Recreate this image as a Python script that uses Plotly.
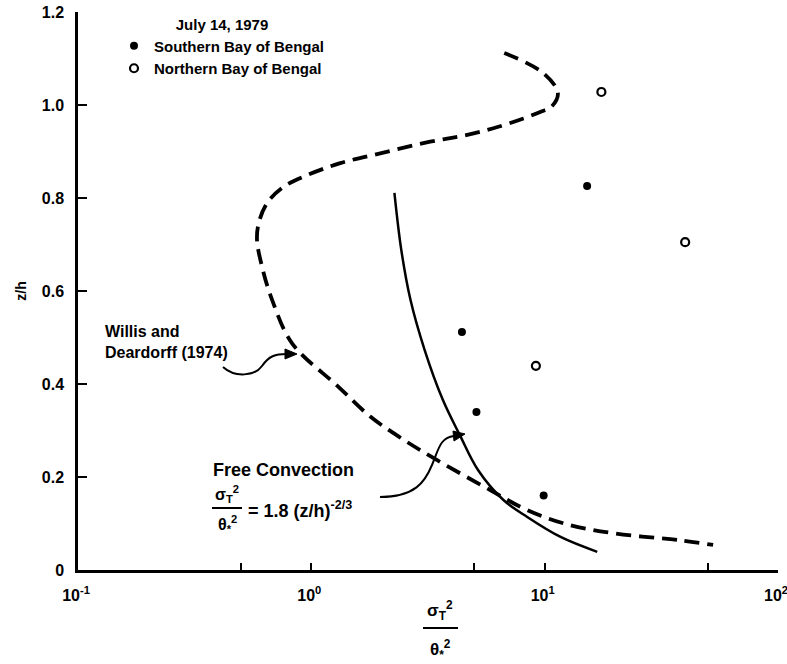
import plotly.graph_objects as go

# ---------------- data ----------------
south_x = [15.2, 4.42, 5.1, 9.9]
south_z = [0.826, 0.512, 0.340, 0.160]

north_x = [17.5, 40.0, 9.17]
north_z = [1.028, 0.705, 0.439]

# Willis and Deardorff (1974) curve (dashed)
wd_x = [6.71, 9.85, 11.39, 10.69, 9.68, 8.11, 6.03, 4.49, 3.23, 1.975, 1.331, 0.958,
        0.761, 0.646, 0.595, 0.585, 0.615, 0.679, 0.827, 1.30, 1.789, 2.40, 3.45, 5.84,
        8.11, 12.03, 19.73, 37.4, 52.7]
wd_z = [1.112, 1.069, 1.026, 0.996, 0.986, 0.971, 0.950, 0.934, 0.921, 0.896, 0.875, 0.849,
        0.824, 0.789, 0.746, 0.710, 0.652, 0.581, 0.4875, 0.395, 0.330, 0.285, 0.2366, 0.172,
        0.1327, 0.1004, 0.0789, 0.0645, 0.0538]

# Free convection curve (solid)
fc_x = [2.27, 2.43, 2.66, 3.06, 3.66, 4.33, 5.18, 6.64, 8.42, 11.7, 16.8]
fc_z = [0.811, 0.688, 0.581, 0.473, 0.366, 0.290, 0.215, 0.151, 0.114, 0.071, 0.039]

xtick_vals = [0.1, 1, 10, 100]
xtick_text = ["10<sup>-1</sup>", "10<sup>0</sup>", "10<sup>1</sup>", "10<sup>2</sup>"]
xminor_vals = [0.5, 5, 50]
ytick_vals = [0, 0.2, 0.4, 0.6, 0.8, 1.0, 1.2]
ytick_text = ["0", "0.2", "0.4", "0.6", "0.8", "1.0", "1.2"]

# ---------------- layout helpers ----------------
W, H = 787, 664
L, R, T, B = 78, 778, 12, 570
FONT = "Liberation Sans"


def px(x):
    return (x - L) / (R - L)


def py(y):
    return (B - y) / (B - T)


fig = go.Figure()

fig.add_trace(go.Scatter(
    x=wd_x, y=wd_z, mode="lines", line_shape="spline",
    line=dict(color="black", width=3.8, dash="15px,8px"),
    showlegend=False, hoverinfo="skip"))

fig.add_trace(go.Scatter(
    x=fc_x, y=fc_z, mode="lines", line_shape="spline",
    line=dict(color="black", width=2.5),
    showlegend=False, hoverinfo="skip"))

fig.add_trace(go.Scatter(
    x=south_x, y=south_z, mode="markers", name="Southern Bay of Bengal",
    marker=dict(symbol="circle", size=8, color="black")))

fig.add_trace(go.Scatter(
    x=north_x, y=north_z, mode="markers", name="Northern Bay of Bengal",
    marker=dict(symbol="circle-open", size=8, color="black", line=dict(width=2.2))))

fig.update_layout(
    width=W, height=H,
    margin=dict(l=L, r=W - R, t=T, b=H - B, pad=0),
    paper_bgcolor="white", plot_bgcolor="white",
    font=dict(family=FONT, color="black", size=14),
    legend=dict(
        x=px(114), y=py(10), xanchor="left", yanchor="top",
        bgcolor="rgba(0,0,0,0)", borderwidth=0,
        font=dict(family=FONT, size=15, color="black", weight="bold"),
        title=dict(text="July 14, 1979", side="top center",
                   font=dict(family=FONT, size=15, color="black", weight="bold")),
        itemwidth=30, tracegroupgap=0,
    ),
    xaxis=dict(
        type="log", range=[-1, 2], showgrid=False, zeroline=False,
        showline=True, linecolor="black", linewidth=2.5,
        ticks="inside", ticklen=7, tickwidth=2, tickcolor="black",
        tickvals=xtick_vals, ticktext=xtick_text,
        minor=dict(tickvals=xminor_vals, ticks="inside", ticklen=7, tickwidth=2,
                   tickcolor="black", showgrid=False),
        tickfont=dict(family=FONT, size=16, color="black", weight="bold"),
        ticklabelstandoff=9, ticklabelshift=-2, ticklabeloverflow="allow",
        automargin=False,
    ),
    yaxis=dict(
        range=[0, 1.2], showgrid=False, zeroline=False,
        showline=True, linecolor="black", linewidth=2.5,
        ticks="inside", ticklen=9, tickwidth=2, tickcolor="black",
        tickvals=ytick_vals, ticktext=ytick_text,
        tickfont=dict(family=FONT, size=16, color="black", weight="bold"),
        ticklabelstandoff=8, automargin=False,
        title=dict(text="z/h", standoff=12,
                   font=dict(family=FONT, size=14, color="black", weight="bold")),
    ),
)

ann_font = dict(family=FONT, size=14, color="black", weight="bold")


def text(x, y, s, anchor="left", size=14):
    f = dict(ann_font)
    f["size"] = size
    fig.add_annotation(x=px(x), y=py(y), xref="paper", yref="paper", text=s,
                       showarrow=False, xanchor=anchor, yanchor="middle", font=f)


text(103, 331, "Willis and", size=16)
text(103, 352, "Deardorff (1974)", size=16)
text(211, 470, "Free Convection", size=18)
text(227, 494, "σ<sub>T</sub><sup>2</sup>", anchor="center", size=16)
text(227, 524, "θ<sub>*</sub><sup>2</sup>", anchor="center", size=16)
text(246, 509, "= 1.8 (z/h)<sup>-2/3</sup>", size=18)
text(440, 610, "σ<sub>T</sub><sup>2</sup>", anchor="center", size=17)
text(440, 649, "θ<sub>*</sub><sup>2</sup>", anchor="center", size=17)

# fraction bars
for (x0, x1, y0) in [(212, 242, 508), (423, 458, 628)]:
    fig.add_shape(type="line", xref="paper", yref="paper",
                  x0=px(x0), x1=px(x1), y0=py(y0), y1=py(y0),
                  line=dict(color="black", width=2))


def seg(cmd, pts):
    return cmd + " " + " ".join(f"{px(a):.5f},{py(b):.5f}" for a, b in pts)


def triangle(tip, b1, b2):
    return " ".join([seg("M", [tip]), seg("L", [b1]), seg("L", [b2]), "Z"])


# curved leader arrows
fig.add_shape(type="path", xref="paper", yref="paper",
              path=" ".join([seg("M", [(223, 367)]),
                             seg("C", [(235, 378), (255, 376), (262, 366)]),
                             seg("S", [(275, 354), (287, 354)])]),
              line=dict(color="black", width=2))
fig.add_shape(type="path", xref="paper", yref="paper",
              path=triangle((297, 354), (285, 349), (285, 359)),
              fillcolor="black", line=dict(color="black", width=1))

fig.add_shape(type="path", xref="paper", yref="paper",
              path=" ".join([seg("M", [(380, 497)]),
                             seg("C", [(415, 497), (425, 482), (432, 465)]),
                             seg("S", [(440, 438), (454, 436)])]),
              line=dict(color="black", width=2))
fig.add_shape(type="path", xref="paper", yref="paper",
              path=triangle((465, 434), (453, 431), (454, 441)),
              fillcolor="black", line=dict(color="black", width=1))

fig.write_html("out.html")
